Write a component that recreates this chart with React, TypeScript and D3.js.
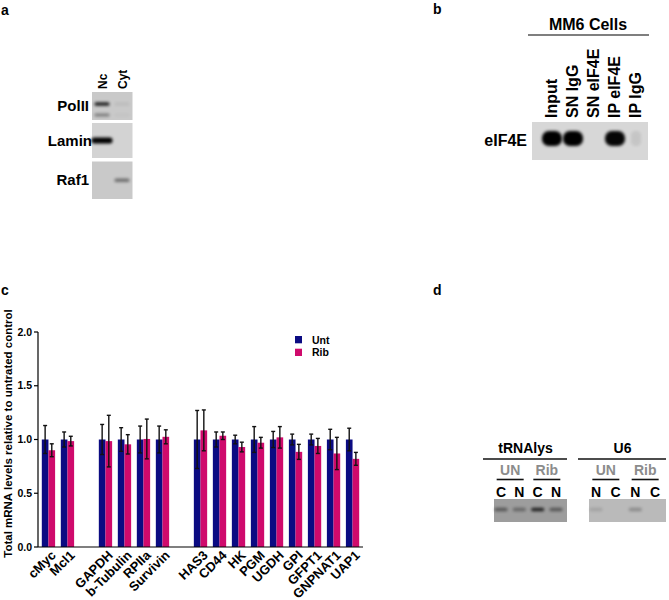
import React from "react";
import * as d3 from "d3";

// panel c data
const slots = ["cMyc", "Mcl1", null, "GAPDH", "b-Tubulin", "RPIIa", "Survivin", null,
  "HAS3", "CD44", "HK", "PGM", "UGDH", "GPI", "GFPT1", "GNPNAT1", "UAP1"];
const genes = slots.filter((s) => s !== null) as string[];
const untMean = [1, 1, 1, 1, 1, 1, 1, 1, 1, 1, 1, 1, 1, 1, 1];
const untErr = [0.13, 0.07, 0.14, 0.11, 0.125, 0.125, 0.27, 0.07, 0.04, 0.12, 0.075, 0.05, 0.05, 0.095, 0.105];
const ribMean = [0.9, 0.985, 0.985, 0.955, 1.005, 1.025, 1.085, 1.035, 0.93, 0.97, 1.02, 0.885, 0.94, 0.87, 0.82];
const ribErr = [0.06, 0.045, 0.24, 0.09, 0.185, 0.065, 0.19, 0.035, 0.045, 0.05, 0.1, 0.07, 0.07, 0.15, 0.06];
const series = ["Unt", "Rib"];
const yTicks = [0, 0.5, 1, 1.5, 2];

// panel a blot
const blotARows = ["PolII", "Lamin", "Raf1"];
const blotALanes = ["Nc", "Cyt"];
const blotABands = [[0.85, 0.06], [1, 0], [0, 0.45]];

// panel b blot
const blotBLanes = ["Input", "SN IgG", "SN eIF4E", "IP eIF4E", "IP IgG"];
const blotBBands = [1, 1, 0, 0.97, 0.08];

// panel d gels
const gelGroups = ["tRNAlys", "U6"];
const gelTreat = ["UN", "Rib"];
const gelLanes = [["C", "N", "C", "N"], ["N", "C", "N", "C"]];
const gelBands = [[0.45, 0.35, 0.8, 0.45], [0.12, 0, 0.25, 0]];

const FONT = "'Liberation Sans', Arial, Helvetica, sans-serif";
const NAVY = "#0b0b82";
const MAGENTA = "#cf0a6c";

function Band({ cx, cy, w, h, k }: { cx: number; cy: number; w: number; h: number; k: number }) {
  if (k <= 0) return null;
  return (
    <rect x={cx - w / 2} y={cy - h / 2} width={w} height={h} rx={Math.min(w, h) / 2.2}
      fill="#000" opacity={k} filter="url(#blur)" />
  );
}

export default function App() {
  // ----- panel c scales
  const x = d3.scaleBand<string>()
    .domain(slots.map((s, i) => s ?? `gap${i}`))
    .range([38, 363])
    .paddingInner(0.3)
    .paddingOuter(0.2);
  const xs = d3.scaleBand<string>().domain(series).range([0, x.bandwidth()]);
  const y = d3.scaleLinear().domain([0, 2]).range([547, 332]);
  const colors = d3.scaleOrdinal<string, string>().domain(series).range([NAVY, MAGENTA]);
  const means = [untMean, ribMean];
  const errs = [untErr, ribErr];

  // ----- panel a
  const rowTops = [92, 123, 161.5];
  const rowH = [28, 35, 37.5];
  const aLane = d3.scalePoint<string>().domain(blotALanes).range([102, 122]);

  // ----- panel b
  const bLane = d3.scalePoint<string>().domain(blotBLanes).range([552, 636]);

  // ----- panel d
  const dLeft = [494, 589];
  const dW = [73, 77];

  return (
    <svg width={669} height={600} style={{ position: "absolute", left: 0, top: 0, background: "#fff" }}
      fontFamily={FONT}>
      <defs>
        <filter id="blur" x="-50%" y="-100%" width="200%" height="300%">
          <feGaussianBlur stdDeviation="1.4" />
        </filter>
      </defs>

      {/* panel letters */}
      <g fontWeight="bold" fontSize={14}>
        <text x={1} y={15}>a</text>
        <text x={433} y={14}>b</text>
        <text x={1} y={295}>c</text>
        <text x={433} y={295}>d</text>
      </g>

      {/* panel a */}
      <g>
        {blotALanes.map((l) => (
          <text key={l} transform={`translate(${aLane(l)! + 5},89) rotate(-90)`} fontSize={12} fontWeight="bold">{l}</text>
        ))}
        {blotARows.map((r, i) => (
          <g key={r}>
            <rect x={92} y={rowTops[i]} width={40.5} height={rowH[i]} fill={i === 1 ? "#d3d3d3" : "#c9c9c9"} />
            <text x={i === 1 ? 92 : 89} y={rowTops[i] + rowH[i] / 2 + 5} textAnchor="end" fontSize={15} fontWeight="bold">{r}</text>
            {blotALanes.map((l, j) => (
              <Band key={l} cx={aLane(l)!} cy={rowTops[i] + rowH[i] / 2 - (i === 0 ? 2 : 0)}
                w={i === 1 ? 21 : 15} h={i === 1 ? 6 : 3.5} k={blotABands[i][j]} />
            ))}
            {i === 0 && blotALanes.map((l, j) => (
              <Band key={l + "2"} cx={aLane(l)!} cy={rowTops[i] + rowH[i] - 5} w={15} h={3} k={blotABands[i][j] * 0.45} />
            ))}
          </g>
        ))}
      </g>

      {/* panel b */}
      <g>
        <text x={588} y={30} textAnchor="middle" fontSize={16} fontWeight="bold">MM6 Cells</text>
        <line x1={528} x2={649} y1={35} y2={35} stroke="#555" strokeWidth={1.5} />
        {blotBLanes.map((l) => (
          <text key={l} transform={`translate(${bLane(l)! + 5},118) rotate(-90)`} fontSize={16} fontWeight="bold">{l}</text>
        ))}
        <rect x={532} y={122} width={116} height={38} fill="#d7d7d7" />
        {blotBLanes.map((l, i) => (
          <Band key={l} cx={bLane(l)!} cy={138.5} w={i === 4 ? 10 : 20} h={15} k={blotBBands[i]} />
        ))}
        <text x={527} y={146} textAnchor="end" fontSize={16} fontWeight="bold">eIF4E</text>
      </g>

      {/* panel c: chart */}
      <g>
        {genes.map((g, gi) => (
          <g key={g} transform={`translate(${x(g)},0)`}>
            {series.map((s, si) => {
              const v = means[si][gi];
              const e = errs[si][gi];
              const bx = xs(s)!;
              const cx = bx + xs.bandwidth() / 2;
              return (
                <g key={s}>
                  <rect x={bx} y={y(v)} width={xs.bandwidth()} height={y(0) - y(v)} fill={colors(s)} />
                  <line x1={cx} x2={cx} y1={y(v + e)} y2={y(v - e)} stroke="#111" strokeWidth={1.4} />
                  <line x1={cx - 2} x2={cx + 2} y1={y(v + e)} y2={y(v + e)} stroke="#111" strokeWidth={1.4} />
                  <line x1={cx - 2} x2={cx + 2} y1={y(v - e)} y2={y(v - e)} stroke="#111" strokeWidth={1.4} />
                </g>
              );
            })}
          </g>
        ))}
        {/* axes */}
        <line x1={38} x2={38} y1={y(2)} y2={y(0)} stroke="#000" strokeWidth={1.2} />
        <line x1={38} x2={363} y1={y(0)} y2={y(0)} stroke="#000" strokeWidth={1.2} />
        {yTicks.map((t) => (
          <g key={t}>
            <line x1={34} x2={38} y1={y(t)} y2={y(t)} stroke="#000" strokeWidth={1.2} />
            <text x={32} y={y(t)} dy="0.35em" textAnchor="end" fontSize={10.5} fontWeight="bold">{d3.format(".1f")(t)}</text>
          </g>
        ))}
        {genes.map((g) => (
          <text key={g} transform={`translate(${x(g)! + x.bandwidth() / 2 + 3},551) rotate(-45)`}
            textAnchor="end" dy="0.55em" fontSize={13} fontWeight="bold">{g}</text>
        ))}
        <text transform={`translate(12,${(y(0) + y(2)) / 2 - 6}) rotate(-90)`} textAnchor="middle"
          fontSize={11.5} fontWeight="bold">Total mRNA levels relative to untrated control</text>
        {/* legend */}
        {series.map((s, i) => (
          <g key={s} transform={`translate(295,${336 + i * 12.7})`}>
            <rect width={7} height={7.3} fill={colors(s)} />
            <text x={17} y={7.5} fontSize={10.5} fontWeight="bold">{s}</text>
          </g>
        ))}
      </g>

      {/* panel d */}
      <g fontWeight="bold" fontSize={14}>
        {gelGroups.map((grp, gi) => {
          const lane = d3.scalePoint<string>().domain(["0", "1", "2", "3"]).range([dLeft[gi] + 7, dLeft[gi] + dW[gi] - 11]);
          const mid = dLeft[gi] + dW[gi] / 2;
          return (
            <g key={grp}>
              <text x={mid - 5} y={453} textAnchor="middle">{grp}</text>
              <line x1={dLeft[gi] - 11} x2={dLeft[gi] + dW[gi]} y1={459} y2={459} stroke="#111" strokeWidth={1.6} />
              {gelTreat.map((t, ti) => {
                const c = (lane(String(ti * 2))! + lane(String(ti * 2 + 1))!) / 2;
                return (
                  <g key={t}>
                    <text x={c} y={475} textAnchor="middle" fill="#8c8c8c">{t}</text>
                    <line x1={c - 13.5} x2={c + 13.5} y1={479.5} y2={479.5} stroke="#111" strokeWidth={1.6} />
                  </g>
                );
              })}
              {gelLanes[gi].map((l, li) => (
                <text key={li} x={lane(String(li))} y={497} textAnchor="middle">{l}</text>
              ))}
              <rect x={dLeft[gi]} y={499} width={dW[gi]} height={23} fill={gi === 0 ? "#9d9d9d" : "#bababa"} />
              {gelBands[gi].map((k, li) => (
                <Band key={li} cx={lane(String(li))!} cy={509.5} w={13} h={3.5} k={k} />
              ))}
            </g>
          );
        })}
      </g>
    </svg>
  );
}
